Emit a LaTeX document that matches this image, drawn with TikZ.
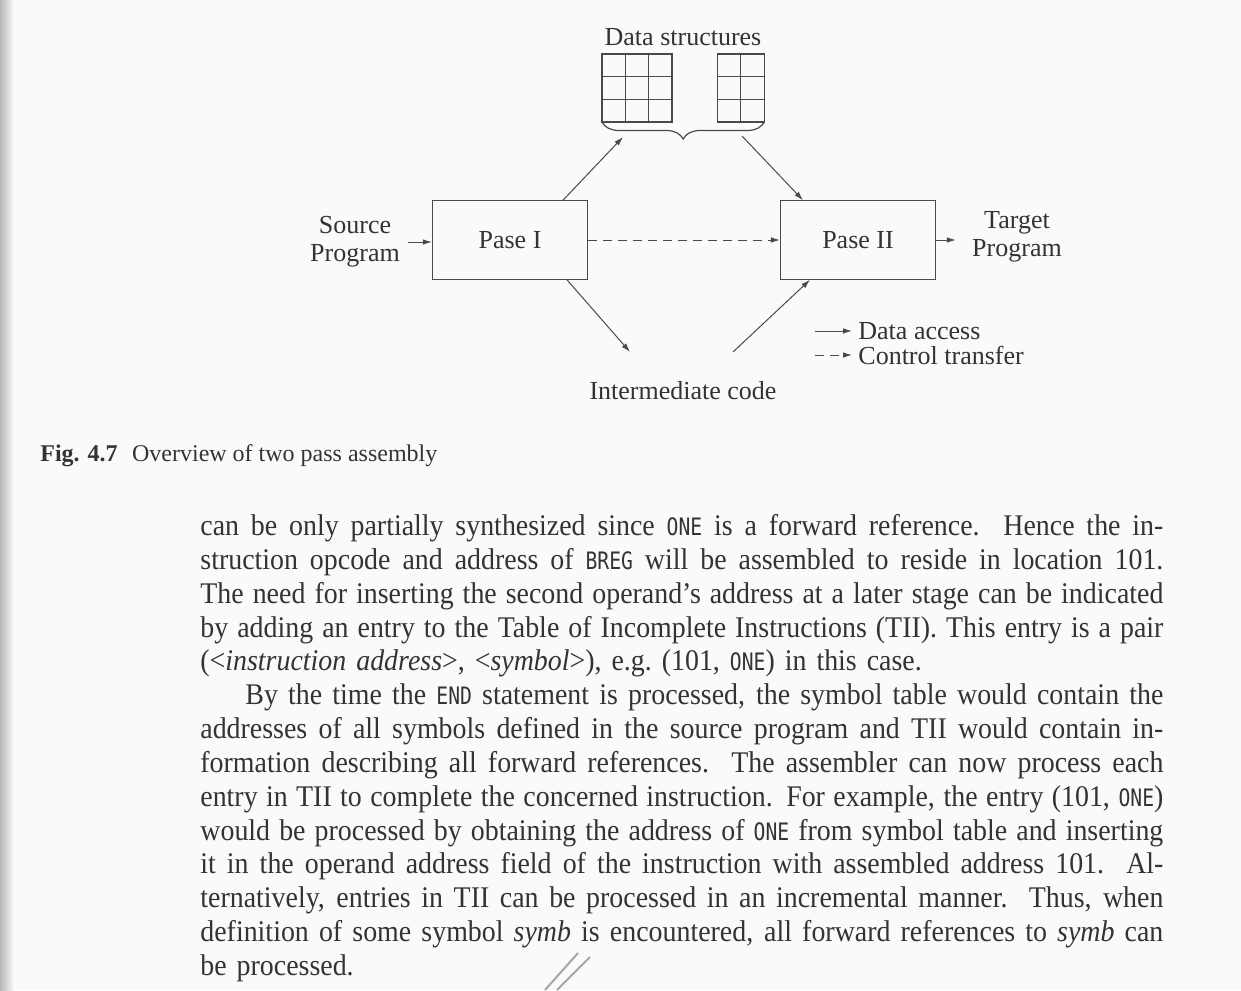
\documentclass[tikz,border=0pt]{standalone}
\usepackage{fontspec}
\setmainfont{Liberation Serif}
\newfontfamily\bodyfont{Liberation Serif}[Ligatures=TeX, FakeStretch=0.93]
\newfontfamily\codefont{DejaVu Sans Mono}[Scale=0.8, FakeStretch=0.82]
\usetikzlibrary{arrows.meta,decorations.pathreplacing,calc}

\definecolor{ink}{HTML}{333333}
\definecolor{rule}{HTML}{4A4A4A}
\definecolor{paper}{HTML}{FAFAF8}

% one justified line of the running text (stretchable word spaces)
\newcommand\jline[1]{\makebox[481.5pt][s]{\spaceskip=0pt\xspaceskip=0pt #1}\\}
% program identifiers in the running text
\newcommand\code[1]{{\codefont #1}}

\tikzset{
  every node/.style={text=ink},
  lbl/.style={font=\fontsize{13}{14}\selectfont, align=center, inner sep=0pt},
  passbox/.style={draw=rule, line width=0.6pt, minimum width=77.5pt,
    minimum height=39.2pt, inner sep=0pt, font=\fontsize{13}{14}\selectfont},
  flow/.style={draw=rule, line width=0.5pt, -{Latex[length=4.5pt,width=2.8pt]}},
  ctrl/.style={flow, dash pattern=on 4.5pt off 3pt},
  cell/.style={draw=rule, line width=0.6pt},
}

\begin{document}
\begin{tikzpicture}[x=0.5pt, y=-0.5pt]
  \useasboundingbox (0,0) rectangle (1241,990);
  \fill[paper] (0,0) rectangle (1241,990);
  \shade[left color=gray!55, right color=paper] (0,0) rectangle (14,990);

  % ---- data structures: two tables and a brace ----
  \node[lbl] (ds) at (683,37) {Data structures};
  \foreach \c in {0,1,2}
    \foreach \r in {0,1,2}
      \draw[cell] (602+23.3*\c, 54+22.7*\r) rectangle ++(23.3,22.7);
  \foreach \c in {0,1}
    \foreach \r in {0,1,2}
      \draw[cell] (717.3+23.5*\c, 54+22.7*\r) rectangle ++(23.5,22.7);
  \draw[cell, decorate, decoration={brace, mirror, amplitude=8.5pt}]
    (602,122) -- (764.3,122);
  \coordinate (dsL) at (623,137);
  \coordinate (dsR) at (742,136);

  % ---- passes ----
  \node[passbox] (p1) at (510,240) {Pase I};
  \node[passbox] (p2) at (858,240) {Pase II};
  \node[lbl] (src) at (355,242) {Source\\Program};
  \node[lbl] (tgt) at (1017,237) {Target\\Program};
  \node[lbl] (ic) at (683,391) {Intermediate code};
  \coordinate (icL) at (630,352);
  \coordinate (icR) at (733,352);

  \draw[flow, shorten <=4pt] (src.east) -- (src.east -| p1.west);
  \draw[ctrl] (p1.east) -- (p2.west);
  \draw[flow, shorten >=8pt] (p2.east) -- (p2.east -| tgt.west);
  \draw[flow] ([xshift=26.5pt]p1.north) -- (dsL);
  \draw[flow] (dsR) -- ([xshift=-27.5pt]p2.north);
  \draw[flow] ([xshift=28.5pt]p1.south) -- (icL);
  \draw[flow] (icR) -- ([xshift=-24pt]p2.south);

  % ---- legend ----
  \node[lbl, anchor=west] (lgA) at (858,331) {Data access};
  \node[lbl, anchor=west] (lgC) at (858,355) {Control transfer};
  \coordinate (lgA0) at (815,331);
  \coordinate (lgC0) at (815,355);
  \draw[flow, shorten >=3pt] (lgA0) -- (lgA.west);
  \draw[ctrl, shorten >=3pt] (lgC0) -- (lgC.west);

  % ---- caption ----
  \node[anchor=base west, inner sep=0pt, font=\fontsize{12}{14}\selectfont] (cap)
    at (40,461) {\textbf{Fig. 4.7}\hspace{0.6em}Overview of two pass assembly};

  % ---- running text ----
  \node[anchor=north west, inner sep=0pt, text width=481.5pt, align=left,
        font=\bodyfont\fontsize{15}{16.92}\selectfont] (body) at (200,514) {%
    \jline{can be only partially synthesized since \code{ONE} is a forward reference.\ \ Hence the in-}
    \jline{struction opcode and address of \code{BREG} will be assembled to reside in location 101.}
    \jline{The need for inserting the second operand's address at a later stage can be indicated}
    \jline{by adding an entry to the Table of Incomplete Instructions (TII). This entry is a pair}
    (<\textit{instruction address}>, <\textit{symbol}>), e.g.\ (101, \code{ONE}) in this case.\\
    \jline{\hspace*{22.5pt}By the time the \code{END} statement is processed, the symbol table would contain the}
    \jline{addresses of all symbols defined in the source program and TII would contain in-}
    \jline{formation describing all forward references.\ \ The assembler can now process each}
    \jline{entry in TII to complete the concerned instruction. For example, the entry (101, \code{ONE})}
    \jline{would be processed by obtaining the address of \code{ONE} from symbol table and inserting}
    \jline{it in the operand address field of the instruction with assembled address 101.\ \ Al-}
    \jline{ternatively, entries in TII can be processed in an incremental manner.\ \ Thus, when}
    \jline{definition of some symbol \textit{symb} is encountered, all forward references to \textit{symb} can}
    be processed.};

  % ---- pencil strokes at the foot of the page ----
  \draw[gray!70, line width=1pt] (545,990) -- (578,953);
  \draw[gray!70, line width=1pt] (557,990) -- (590,957);
\end{tikzpicture}
\end{document}
